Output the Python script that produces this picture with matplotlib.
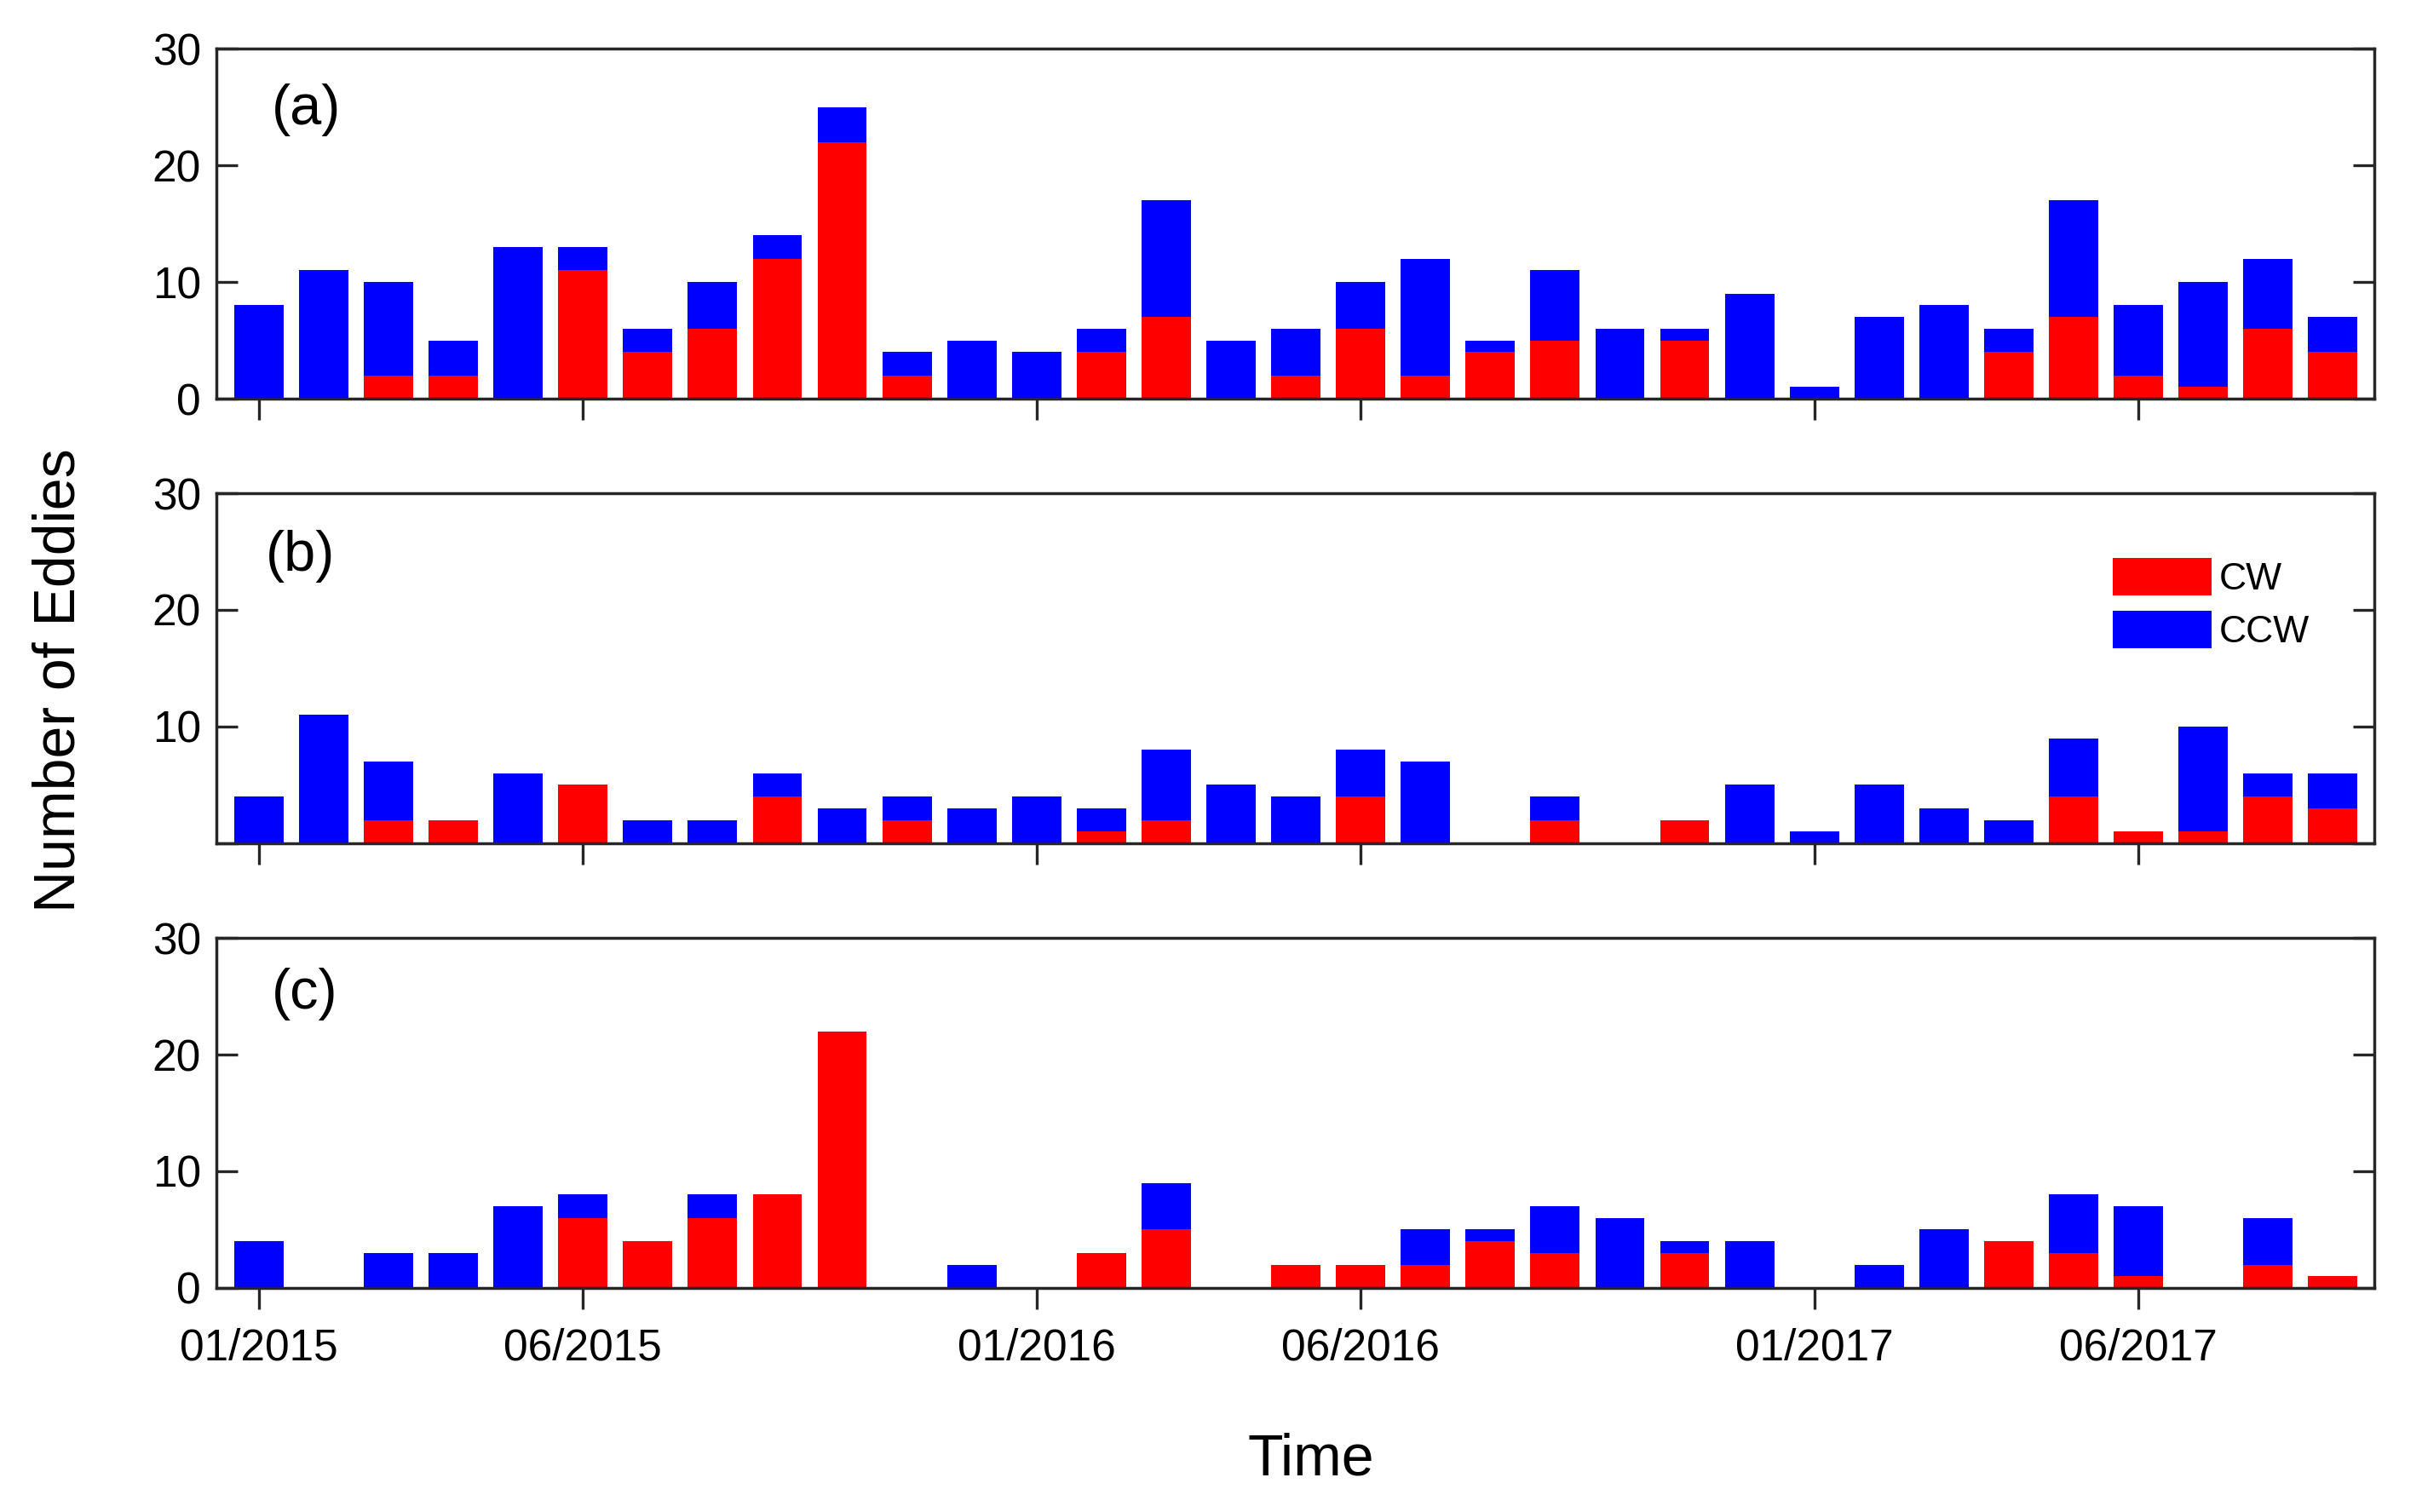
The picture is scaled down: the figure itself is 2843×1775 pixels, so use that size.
import matplotlib
matplotlib.use("Agg")
import matplotlib.pyplot as plt

plt.rcParams['font.family'] = ['Liberation Sans', 'DejaVu Sans']

months = ["01/2015", "02/2015", "03/2015", "04/2015", "05/2015", "06/2015",
          "07/2015", "08/2015", "09/2015", "10/2015", "11/2015", "12/2015",
          "01/2016", "02/2016", "03/2016", "04/2016", "05/2016", "06/2016",
          "07/2016", "08/2016", "09/2016", "10/2016", "11/2016", "12/2016",
          "01/2017", "02/2017", "03/2017", "04/2017", "05/2017", "06/2017",
          "07/2017", "08/2017", "09/2017"]
tick_labels = ["01/2015", "06/2015", "01/2016", "06/2016", "01/2017", "06/2017"]

cw_a = [0, 0, 2, 2, 0, 11, 4, 6, 12, 22, 2, 0, 0, 4, 7, 0, 2, 6, 2, 4, 5, 0, 5, 0, 0, 0, 0, 4, 7, 2, 1, 6, 4]
ccw_a = [8, 11, 8, 3, 13, 2, 2, 4, 2, 3, 2, 5, 4, 2, 10, 5, 4, 4, 10, 1, 6, 6, 1, 9, 1, 7, 8, 2, 10, 6, 9, 6, 3]

cw_b = [0, 0, 2, 2, 0, 5, 0, 0, 4, 0, 2, 0, 0, 1, 2, 0, 0, 4, 0, 0, 2, 0, 2, 0, 0, 0, 0, 0, 4, 1, 1, 4, 3]
ccw_b = [4, 11, 5, 0, 6, 0, 2, 2, 2, 3, 2, 3, 4, 2, 6, 5, 4, 4, 7, 0, 2, 0, 0, 5, 1, 5, 3, 2, 5, 0, 9, 2, 3]

cw_c = [0, 0, 0, 0, 0, 6, 4, 6, 8, 22, 0, 0, 0, 3, 5, 0, 2, 2, 2, 4, 3, 0, 3, 0, 0, 0, 0, 4, 3, 1, 0, 2, 1]
ccw_c = [4, 0, 3, 3, 7, 2, 0, 2, 0, 0, 0, 2, 0, 0, 4, 0, 0, 0, 3, 1, 4, 6, 1, 4, 0, 2, 5, 0, 5, 6, 0, 4, 0]

panels = [("(a)", cw_a, ccw_a), ("(b)", cw_b, ccw_b), ("(c)", cw_c, ccw_c)]

RED = "#FF0000"
BLUE = "#0000FF"
FRAME = "#262626"

fig = plt.figure(figsize=(14.215, 8.875), dpi=200)

x = list(range(1, len(months) + 1))
tick_pos = [months.index(m) + 1 for m in tick_labels]

bottoms = [0.7363, 0.4423, 0.1482]
label_y = [0.824, 0.82, 0.84]
label_x = [0.0257, 0.023, 0.0257]

for i, (name, cw, ccw) in enumerate(panels):
    ax = fig.add_axes([0.0893, bottoms[i], 0.8910, 0.2315])
    b1 = ax.bar(x, cw, width=0.76, color=RED, linewidth=0, label="CW")
    b2 = ax.bar(x, ccw, bottom=cw, width=0.76, color=BLUE, linewidth=0, label="CCW")
    ax.set_xlim(0.343, 33.64)
    ax.set_ylim(0, 30)
    ax.set_yticks([0, 10, 20, 30])
    if i == 1:
        ax.set_yticklabels(["", "10", "20", "30"])
    ax.set_xticks(tick_pos)
    if i == 2:
        ax.set_xticklabels(tick_labels)
    else:
        ax.set_xticklabels([])
    ax.tick_params(axis='y', direction='in', length=9, width=1.2, right=True,
                   labelsize=18.5, pad=6.5, color=FRAME, labelcolor='black')
    ax.tick_params(axis='x', direction='out', length=9, width=1.2, top=False,
                   labelsize=18.5, pad=7.8, color=FRAME, labelcolor='black')
    for sp in ax.spines.values():
        sp.set_linewidth(1.25)
        sp.set_color(FRAME)
    ax.text(label_x[i], label_y[i], name, transform=ax.transAxes, fontsize=24,
            ha='left', va='center')
    if i == 1:
        ax.legend(handles=[b1, b2], loc='upper left', bbox_to_anchor=(0.879, 0.815),
                  frameon=False, fontsize=16, handlelength=2.59, handleheight=1.15,
                  labelspacing=0.35, handletextpad=0.2, borderpad=0, borderaxespad=0)

fig.text(0.0243, 0.55, "Number of Eddies", rotation=90, ha='center', va='center', fontsize=24.5)
fig.text(0.5413, 0.0349, "Time", ha='center', va='center', fontsize=24.5)

fig.savefig("out.png", dpi=200)
